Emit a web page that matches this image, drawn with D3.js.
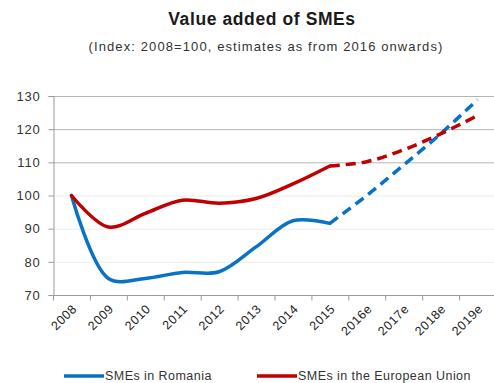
<!DOCTYPE html>
<html>
<head>
<meta charset="utf-8">
<script src="https://cdn.jsdelivr.net/npm/d3@7/dist/d3.min.js"></script>
<style>
  html, body { margin: 0; padding: 0; background: #fff; }
  svg { display: block; font-family: "Liberation Sans", Arial, sans-serif; }
</style>
</head>
<body>
<svg id="chart" width="494" height="383"></svg>
<script>
// Years on the category axis (estimates marked with "e")
const categories = ["2008", "2009", "2010", "2011", "2012", "2013", "2014", "2015",
                    "2016e", "2017e", "2018e", "2019e"];
// Index values, 2008 = 100
const romania = [100, 75.0, 75.0, 76.8, 77.0, 84.5, 92.4, 91.6, 100.0, 109.2, 118.6, 128.9];
const europeanUnion = [100, 90.5, 94.6, 98.6, 97.7, 99.1, 103.5, 108.9, 110.2, 113.8, 118.6, 124.1];
const yTicks = [70, 80, 90, 100, 110, 120, 130];
// Index of the last actual observation; the forecast runs from here on
const lastActual = 7;

const seriesList = [
  { name: "SMEs in Romania", values: romania, color: "#0A72C4" },
  { name: "SMEs in the European Union", values: europeanUnion, color: "#C00000" }
];

const svg = d3.select("#chart");
const plot = { left: 53, right: 496, top: 96, bottom: 295 };

const x = d3.scaleBand().domain(categories).range([plot.left, plot.right]).padding(0);
const y = d3.scaleLinear().domain([70, 130]).range([plot.bottom, plot.top]);

// Title
svg.append("text").attr("x", 262).attr("y", 25).attr("text-anchor", "middle")
  .attr("font-size", 17.5).attr("font-weight", "bold").attr("fill", "#1a1a1a")
  .attr("letter-spacing", 0.6)
  .text("Value added of SMEs");
svg.append("text").attr("x", 266).attr("y", 51).attr("text-anchor", "middle")
  .attr("font-size", 13).attr("fill", "#333").attr("letter-spacing", 1.1)
  .text("(Index: 2008=100, estimates as from 2016 onwards)");

// Horizontal gridlines
svg.append("g").selectAll("line").data(yTicks.filter(d => d > 70)).join("line")
  .attr("x1", plot.left).attr("x2", 494)
  .attr("y1", d => y(d) + 0.5).attr("y2", d => y(d) + 0.5)
  .attr("stroke", d => d >= 110 ? "#b5b5b5" : "#ececec")
  .attr("stroke-width", 1);

// Y axis
const yAxis = svg.append("g").attr("transform", `translate(${plot.left + 0.5},0)`)
  .call(d3.axisLeft(y).tickValues(yTicks).tickSize(5).tickPadding(8));
yAxis.select(".domain").attr("stroke", "#9a9a9a");
yAxis.selectAll(".tick line").attr("stroke", "#9a9a9a");
yAxis.selectAll(".tick text").attr("font-size", 13).attr("fill", "#333")
  .attr("letter-spacing", 0.8)
  .attr("font-family", "'Liberation Sans', Arial, sans-serif");

// X axis: ticks on band boundaries, labels at band centres
const xAxisG = svg.append("g").attr("transform", `translate(0,${plot.bottom + 0.5})`);
xAxisG.append("line").attr("x1", plot.left).attr("x2", 494)
  .attr("stroke", "#9a9a9a");
xAxisG.selectAll("line.tk").data(categories).join("line").attr("class", "tk")
  .attr("x1", d => x(d) + 0.5).attr("x2", d => x(d) + 0.5)
  .attr("y1", 0).attr("y2", 5).attr("stroke", "#9a9a9a");
xAxisG.selectAll("text").data(categories).join("text")
  .attr("transform", d => `translate(${x(d) + x.bandwidth() / 2 + 3},${11}) rotate(-45)`)
  .attr("text-anchor", "end").attr("dy", "0.35em")
  .attr("font-size", 12.5).attr("fill", "#222").attr("letter-spacing", 0.6)
  .text(d => d);

// Lines: solid for actual data, dashed for estimates
const line = d3.line()
  .x(d => x(d.cat) + x.bandwidth() / 2)
  .y(d => y(d.v))
  .curve(d3.curveCatmullRom.alpha(0.5));

seriesList.forEach(s => {
  const pts = s.values.map((v, i) => ({ cat: categories[i], v }));
  svg.append("path").datum(pts.slice(0, lastActual + 1))
    .attr("d", line).attr("fill", "none")
    .attr("stroke", s.color).attr("stroke-width", 3.5)
    .attr("stroke-linecap", "round").attr("stroke-linejoin", "round");
  svg.append("path").datum(pts.slice(lastActual))
    .attr("d", line).attr("fill", "none")
    .attr("stroke", s.color).attr("stroke-width", 3.5)
    .attr("stroke-dasharray", "10 6");
});

// Legend
const legendItems = [
  { s: seriesList[0], x: 64 },
  { s: seriesList[1], x: 257 }
];
const lg = svg.append("g").attr("transform", "translate(0,376)");
legendItems.forEach(it => {
  lg.append("line").attr("x1", it.x).attr("x2", it.x + 40).attr("y1", 0).attr("y2", 0)
    .attr("stroke", it.s.color).attr("stroke-width", 3.5);
  lg.append("text").attr("x", it.x + 41).attr("y", 0).attr("dy", "0.35em")
    .attr("font-size", 12.5).attr("fill", "#333").attr("letter-spacing", 0.45)
    .text(it.s.name);
});
</script>
</body>
</html>
